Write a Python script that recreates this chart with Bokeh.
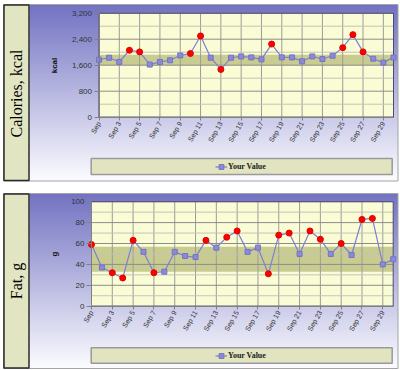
import math
from bokeh.plotting import figure
from bokeh.models import (Range1d, FixedTicker, NumeralTickFormatter, Label, Legend,
                          LegendItem, ColumnDataSource)
from bokeh.layouts import column
from bokeh.embed import file_html
from bokeh.resources import INLINE

# ---------------- data ----------------
days = list(range(1, 31))
x_tick_days = [1, 3, 5, 7, 9, 11, 13, 15, 17, 19, 21, 23, 25, 27, 29]
x_tick_labels = ["Sep", "Sep 3", "Sep 5", "Sep 7", "Sep 9", "Sep 11", "Sep 13", "Sep 15",
                 "Sep 17", "Sep 19", "Sep 21", "Sep 23", "Sep 25", "Sep 27", "Sep 29"]
calories = [1770, 1830, 1700, 2060, 2010, 1620, 1700, 1750, 1900, 1960,
            2500, 1830, 1470, 1830, 1870, 1840, 1780, 2250, 1840, 1840,
            1720, 1870, 1790, 1890, 2140, 2540, 2010, 1800, 1680, 1840]
fat = [59, 37, 32, 27, 63, 52, 32, 33, 52, 48,
       47, 63, 56, 66, 72, 52, 56, 31, 68, 70,
       50, 72, 64, 50, 60, 49, 83, 84, 40, 45]
calories_target = [1600, 1920]
fat_target = [33, 57]
calories_yticks = [0, 800, 1600, 2400, 3200]
fat_yticks = [0, 20, 40, 60, 80, 100]
series_name = "Your Value"
panel_titles = ["Calories, kcal", "Fat, g"]
units = ["kcal", "g"]

# ---------------- styling ----------------
W = 400
TOP_C = (114, 114, 194)
BOT_C = (252, 252, 255)


def grad(t):
    t = max(0.0, min(1.0, t))
    return "#%02x%02x%02x" % tuple(round(a + (b - a) * t) for a, b in zip(TOP_C, BOT_C))


def make_panel(title, unit, values, target, yticks, H, area, border, leg_box, title_y,
               label_standoff):
    pl, pr, pt, pb = area
    bl, br, bt, bb = border
    ymax = yticks[-1]
    x0, x1 = days[0], days[-1]
    sx = (pr - pl) / (x1 - x0)
    sy = (pb - pt) / ymax
    xs, xe = x0 - pl / sx, x0 + (W - pl) / sx
    ye = ymax + pt / sy
    ys = ye - H / sy

    def dx(px):
        return xs + px / sx

    def dy(py):
        return ye - py / sy

    p = figure(width=W, height=H, output_backend="svg", toolbar_location=None,
               x_range=Range1d(xs, xe), y_range=Range1d(ys, ye),
               min_border_left=0, min_border_right=0, min_border_top=0, min_border_bottom=0,
               background_fill_color="white", border_fill_color="white",
               outline_line_color=None)
    p.xgrid.visible = False
    p.ygrid.visible = False

    # panel gradient background
    tops, bots, cols = [], [], []
    y = bt
    while y < bb:
        tops.append(dy(y))
        bots.append(dy(min(y + 2.6, bb)))
        cols.append(grad((y + 1 - bt) / (bb - bt)))
        y += 2
    p.quad(left=dx(29), right=dx(br), top=tops, bottom=bots, fill_color=cols, line_color=None)
    # outer border
    p.quad(left=dx(bl), right=dx(br), top=dy(bt), bottom=dy(bb), fill_color=None,
           line_color="#a4a4a4", line_width=1)
    # title box
    p.quad(left=dx(bl + 0.5), right=dx(28.5), top=dy(bt + 0.5), bottom=dy(bb - 0.5),
           fill_color="#e2e5c2", line_color="#2a2a2a", line_width=1.5)
    # legend box
    lx0, lx1, ly0, ly1 = leg_box
    p.quad(left=dx(lx0), right=dx(lx1), top=dy(ly0), bottom=dy(ly1),
           fill_color="#e1e4bf", line_color="#9a9a9a", line_width=1.5)
    # plot area + target band
    lo, hi = target
    p.quad(left=x0, right=x1, top=ymax, bottom=0, fill_color="#fafcd6", line_color=None)
    p.quad(left=x0, right=x1, top=hi, bottom=lo, fill_color="#c9cc90", line_color=None)
    # grid lines
    n = len(x_tick_days)
    p.segment(x0=x_tick_days, y0=[0] * n, x1=x_tick_days, y1=[ymax] * n,
              line_color="#9c9c9c", line_width=1)
    minor = [(a + b) / 2 for a, b in zip(yticks[:-1], yticks[1:])]
    p.segment(x0=[x0] * len(minor), y0=minor, x1=[x1] * len(minor), y1=minor,
              line_color="#c4c4b4", line_width=1)
    p.segment(x0=[x0] * len(yticks), y0=yticks, x1=[x1] * len(yticks), y1=yticks,
              line_color="#8c8c8c", line_width=1)
    p.quad(left=x0, right=x1, top=ymax, bottom=0, fill_color=None,
           line_color="#4a4a78", line_width=1)

    # data
    out = [v < lo or v > hi for v in values]
    in_src = ColumnDataSource(dict(x=[d for d, o in zip(days, out) if not o],
                                   y=[v for v, o in zip(values, out) if not o]))
    out_src = ColumnDataSource(dict(x=[d for d, o in zip(days, out) if o],
                                    y=[v for v, o in zip(values, out) if o]))
    line_r = p.line(days, values, line_color="#7e7ed6", line_width=1.2)
    blue_r = p.scatter("x", "y", source=in_src, marker="square", size=5,
                       fill_color="#8a8ad8", line_color="#7474c4")
    p.scatter("x", "y", source=out_src, marker="circle", size=6,
              fill_color="#ff0000", line_color="#e00000")

    # axes placed at the plot area edges
    yt = FixedTicker(ticks=yticks, minor_ticks=[])
    xt = FixedTicker(ticks=x_tick_days, minor_ticks=[])
    xa, ya = p.xaxis[0], p.yaxis[0]
    xa.fixed_location = 0
    ya.fixed_location = x0
    xa.bounds = (x0, x1)
    ya.bounds = (0, ymax)
    xa.ticker = xt
    xa.major_label_overrides = {d: lab for d, lab in zip(x_tick_days, x_tick_labels)}
    xa.major_label_orientation = math.pi / 3
    ya.ticker = yt
    ya.formatter = NumeralTickFormatter(format="0,0")
    ya.axis_label = unit
    for ax in (xa, ya):
        ax.axis_line_color = "#808080"
        ax.major_tick_line_color = "#808080"
        ax.minor_tick_line_color = None
        ax.major_tick_in = 0
        ax.major_label_text_color = "#333333"
        ax.major_label_text_font = "Liberation Sans"
    xa.major_tick_out = 3
    xa.major_label_text_font_size = "7px"
    xa.major_label_standoff = 2
    ya.major_tick_out = 5
    ya.major_label_text_font_size = "8px"
    ya.major_label_standoff = 2
    ya.axis_label_text_font = "Liberation Sans"
    ya.axis_label_text_font_style = "bold"
    ya.axis_label_text_font_size = "8px"
    ya.axis_label_text_color = "#111111"
    ya.axis_label_standoff = label_standoff

    # rotated panel title
    p.add_layout(Label(x=dx(15.5), y=dy(title_y), text=title, angle=math.pi / 2,
                       text_align="center", text_baseline="middle",
                       text_font="Liberation Serif", text_font_size="16px",
                       text_color="#000000"))
    # legend
    leg_mid = (ly0 + ly1) / 2
    legend = Legend(items=[LegendItem(label=series_name, renderers=[line_r, blue_r])],
                    location=(215, H - leg_mid - 7.5), orientation="horizontal",
                    background_fill_alpha=0, border_line_color=None, padding=0, margin=0,
                    spacing=0, glyph_width=12, glyph_height=15, label_height=15,
                    label_standoff=1, label_text_font="Liberation Serif",
                    label_text_font_style="bold", label_text_font_size="8px",
                    label_text_color="#222222")
    p.add_layout(legend)
    return p


H1, H2 = 186, 184
p1 = make_panel(panel_titles[0], units[0], calories, calories_target, calories_yticks,
                H=H1, area=(98.5, 393, 12.7, 116.7), border=(3, 397.5, 4, 180.5),
                leg_box=(90.7, 391.7, 158, 174), title_y=93, label_standoff=10)
p2 = make_panel(panel_titles[1], units[1], fat, fat_target, fat_yticks,
                H=H2, area=(91, 392.7, 15.2, 119.7), border=(3, 397.5, 7, 182),
                leg_box=(90.7, 391.7, 161.3, 176.7), title_y=94.5, label_standoff=9)

layout = column(p1, p2, spacing=0)
open("out.html", "w").write(file_html(layout, INLINE))
